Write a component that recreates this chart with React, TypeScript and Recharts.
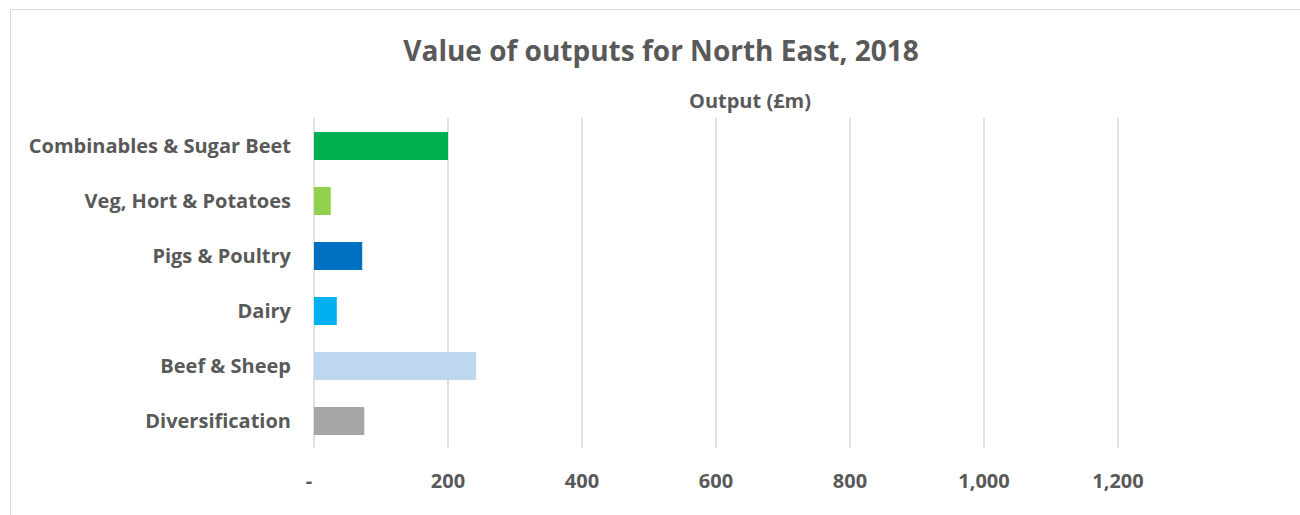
import React from "react";
import { BarChart, Bar, XAxis, YAxis, CartesianGrid, Cell } from "recharts";

const categories = [
  "Combinables & Sugar Beet",
  "Veg, Hort & Potatoes",
  "Pigs & Poultry",
  "Dairy",
  "Beef & Sheep",
  "Diversification",
];
const outputs = [200, 25, 72, 34, 242, 75];
const colors = ["#00B050", "#92D050", "#0070C0", "#00B0F0", "#BDD7EE", "#A6A6A6"];
const xTicks = [0, 200, 400, 600, 800, 1000, 1200];

const data = categories.map((c, i) => ({ name: c, value: outputs[i] }));

const FONT = "'Open Sans', sans-serif";
const TEXT = "#595959";

const XTick = (props: any) => {
  const { x, y, payload } = props;
  const v = payload.value as number;
  const label = v === 0 ? "-" : v.toLocaleString("en-US");
  return (
    <text
      x={v === 0 ? x - 5 : x}
      y={y}
      dy="0.71em"
      textAnchor="middle"
      fill={TEXT}
      fontSize={20}
      fontWeight={700}
      fontFamily={FONT}
    >
      {label}
    </text>
  );
};

export default function App() {
  return (
    <div style={{ position: "absolute", left: 0, top: 0, width: 1300, height: 515, background: "#fff", overflow: "hidden", fontFamily: FONT }}>
      <div style={{ position: "absolute", left: 10, top: 9, width: 1400, height: 600, border: "1.5px solid #d9d9d9", boxSizing: "border-box" }} />
      <div style={{ position: "absolute", left: 0, top: 30, width: 1322, textAlign: "center", fontSize: 28, fontWeight: 700, color: TEXT, lineHeight: "40px" }}>
        Value of outputs for North East, 2018
      </div>
      <BarChart
        width={1300}
        height={515}
        data={data}
        layout="vertical"
        margin={{ top: 118, right: 182, bottom: 27, left: 0 }}
        style={{ position: "absolute", left: 0, top: 0 }}
      >
        <CartesianGrid horizontal={false} stroke="#d9d9d9" strokeWidth={1.5} />
        <XAxis
          type="number"
          domain={[0, 1200]}
          ticks={xTicks}
          height={40}
          axisLine={false}
          tickLine={false}
          tickMargin={20}
          tick={<XTick />}
        />
        <YAxis
          type="category"
          dataKey="name"
          width={314}
          axisLine={false}
          tickLine={false}
          tickMargin={17}
          tick={{ fill: TEXT, fontSize: 20, fontWeight: 700, fontFamily: FONT }}
          interval={0}
        />
        <Bar dataKey="value" barSize={28} isAnimationActive={false}>
          {data.map((d, i) => (
            <Cell key={d.name} fill={colors[i]} />
          ))}
        </Bar>
      </BarChart>
      <div style={{ position: "absolute", left: 650, top: 87, width: 200, textAlign: "center", fontSize: 20, fontWeight: 700, color: TEXT, lineHeight: "28px" }}>
        Output (£m)
      </div>
    </div>
  );
}
